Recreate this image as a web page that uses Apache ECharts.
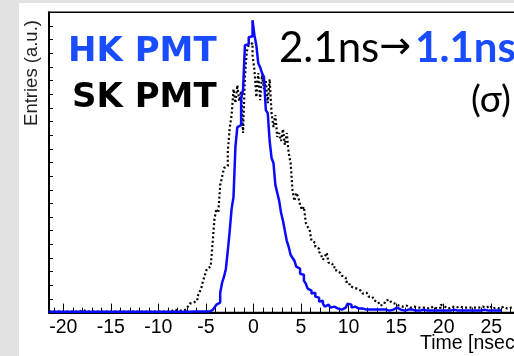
<!DOCTYPE html>
<html>
<head>
<meta charset="utf-8">
<script src="https://cdn.jsdelivr.net/npm/echarts@6/dist/echarts.min.js"></script>
<style>
html,body{margin:0;padding:0;background:#e1e1e1;}
#chart{width:514px;height:356px;}
</style>
</head>
<body>
<div id="chart"></div>
<script>
// ---- data (arbitrary units) ----
const binStart = -21.5;   // ns, left edge of first bin
const binWidth = 0.2;     // ns
const xTickLabels = [-20, -15, -10, -5, 0, 5, 10, 15, 20, 25];
const xMinorTicks = [-21,-20,-19,-18,-17,-16,-15,-14,-13,-12,-11,-10,-9,-8,-7,-6,-5,-4,-3,-2,-1,0,1,2,3,4,5,6,7,8,9,10,11,12,13,14,15,16,17,18,19,20,21,22,23,24,25,26,27,28];

// HK PMT (blue, solid)
const hkCounts = [
  0.8,0.8,0.8,0.8,0.8,0.8,0.8,0.8,0.8,0.8,
  0.8,0.8,0.8,0.8,0.8,0.8,0.8,0.8,0.8,0.8,
  0.8,0.8,0.8,0.8,0.8,0.8,0.8,0.8,0.8,0.8,
  0.8,0.8,0.8,0.8,0.8,0.8,0.8,0.8,0.8,0.8,
  0.8,0.8,0.8,0.8,0.8,0.8,0.8,0.8,0.8,0.8,
  0.8,0.8,0.8,0.8,0.8,0.8,0.8,0.8,0.8,0.8,
  0.8,0.8,0.8,0.8,0.8,0.8,0.8,0.8,0.8,0.8,
  0.8,0.8,0.8,0.8,0.8,1,0.8,1,1,1,
  1,1,1,1,1.5,2.5,4,5,8,10,
  20,30,36,44,62,82,104,116,166,186,
  188,215,223,268,269,276,277,293,278,268,
  250,246,240,236,203,200,172,155,150,128,
  120,112,100,92,82,72,66,58,55,52,
  46,44,39,38,32,29,24,22,19,20,
  16,15,11,12,9,6,8,7,5,6,
  5,4,3,3,4,5,6,9,8,5,
  6,4,4,3,4,3,3,4,3,2,
  3,3,3,2,3,2,3,3,2,2,
  3,3,5,4,3,3,2,3,3,2,
  3,2,2,3,2,2,3,2,2,2,
  2,3,2,2,2,3,2,2,2,3,
  2,2,3,2,2,2,2,3,2,2,
  2,2,2,3,2,2,2,2,3,2,
  2,2,2,2,2,2,2,2
];

// SK PMT (black, dotted)
const skCounts = [
  1,1,1,1.5,1,1,1,1,1,1,
  1,1,1,1,1,1,1.5,2.5,1,1,
  1,1,1,1,1,1,1,1,1,1,
  1,1,1,1,2.5,1,1,1,1,1,
  2.5,1,1,1,1,1,2.5,1,1,1,
  1,1,1,1,1.5,1,1,1,2.5,1,
  1,1,2.5,1,1.5,3,1,2,3,2,
  3,3,4,6,9,10,11,12,16,20,
  24,32,38,44,46,48,70,94,104,100,
  128,136,145,147,162,185,198,224,210,228,
  212,222,180,236,262,268,270,258,243,216,
  240,213,238,224,232,210,234,200,186,198,
  176,180,172,184,168,180,160,150,123,112,
  120,116,108,103,106,90,86,83,72,70,
  66,64,61,58,53,56,60,50,49,46,
  45,42,40,40,37,35,31,30,27,25,
  24,24,23,22,20,19,20,18,16,16,
  15,12,11,9,7,8,10,12,13,12,
  10,9,8,7,6,6,5,7,6,5,
  5,6,4,5,6,5,4,5,5,4,
  5,6,5,4,6,5,8,6,5,4,
  5,6,4,5,5,6,4,5,6,5,
  4,5,6,5,4,5,5,6,7,5,
  6,7,5,4,5,6,4,5,6,5,
  4,6,5,7,5,4,5,6,4,5,5,4
];

const yMax = 301;          // arbitrary units
const yTickCount = 22;

function toSteps(counts) {
  const pts = counts.map((v, i) => [+(binStart + i * binWidth).toFixed(3), v]);
  pts.push([+(binStart + counts.length * binWidth).toFixed(3), counts[counts.length - 1]]);
  return pts;
}

const chart = echarts.init(document.getElementById('chart'), null, {renderer: 'canvas'});
const option = {
  animation: false,
  backgroundColor: '#e1e1e1',
  grid: {
    left: 49, top: 12.3, width: 480.3, height: 300.3,
    containLabel: false, outerBoundsMode: 'none',
    show: true, borderColor: '#000', borderWidth: 1.5, backgroundColor: 'transparent'
  },
  xAxis: [
    {
      type: 'value', min: -21.5, max: 29, position: 'bottom',
      axisLine: {show: true, onZero: false, lineStyle: {color: '#000', width: 2}},
      axisTick: {show: true, inside: true, length: 9, customValues: xTickLabels, lineStyle: {color: '#000', width: 1}},
      axisLabel: {show: true, customValues: xTickLabels, color: '#000', fontSize: 19.5, fontFamily: 'Liberation Sans, Arial', margin: 5},
      splitLine: {show: false}
    },
    {
      type: 'value', min: -21.5, max: 29, position: 'bottom',
      axisLine: {show: false, onZero: false},
      axisTick: {show: true, inside: true, length: 5, customValues: xMinorTicks, lineStyle: {color: '#000', width: 1}},
      axisLabel: {show: false},
      splitLine: {show: false}
    }
  ],
  yAxis: {
    type: 'value', min: 0, max: yMax, interval: yMax / yTickCount,
    axisLine: {show: true, onZero: false, lineStyle: {color: '#000', width: 2}},
    axisTick: {show: true, inside: true, length: 4, lineStyle: {color: '#000', width: 1}},
    axisLabel: {show: false},
    splitLine: {show: false}
  },
  series: [
    {
      name: 'SK PMT', type: 'line', step: 'end', xAxisIndex: 0,
      data: toSteps(skCounts), symbol: 'none', z: 3,
      lineStyle: {color: '#000', width: 2.2, type: [2, 2.4]}
    },
    {
      name: 'HK PMT', type: 'line', step: 'end', xAxisIndex: 0,
      data: toSteps(hkCounts), symbol: 'none', z: 4,
      lineStyle: {color: '#0a0aff', width: 2.5}
    }
  ],
  graphic: [
    {type: 'rect', z: -10, silent: true, shape: {x: 19, y: 3, width: 495, height: 353}, style: {fill: '#fff'}},
    {type: 'text', z: 10, x: 32, y: 73, rotation: Math.PI / 2,
      style: {text: 'Entries (a.u.)', font: '18.5px "Liberation Sans", Arial', fill: '#222', textAlign: 'center', textVerticalAlign: 'middle'}},
    {type: 'text', z: 10, x: 420, y: 344,
      style: {text: 'Time [nsec]', font: '19.5px "Liberation Sans", Arial', fill: '#000', textAlign: 'left', textVerticalAlign: 'middle'}},
    {type: 'text', z: 10, x: 68, y: 52,
      style: {text: 'HK PMT', font: 'bold 34px "DejaVu Sans"', fill: '#1a4cff', textAlign: 'left', textVerticalAlign: 'middle'}},
    {type: 'text', z: 10, x: 72, y: 98,
      style: {text: 'SK PMT', font: 'bold 34px "DejaVu Sans"', fill: '#000', textAlign: 'left', textVerticalAlign: 'middle'}},
    {type: 'text', z: 10, x: 279, y: 48,
      style: {
        text: '{a|2.1ns}{r|→}{b|1.1ns}',
        textAlign: 'left', textVerticalAlign: 'middle',
        rich: {
          a: {font: '42px Lato', fill: '#000'},
          r: {font: '38px "DejaVu Sans"', fill: '#000', padding: [0, 4, 0, 0]},
          b: {font: 'bold 42px Lato', fill: '#1a4cff'}
        }
      }},
    {type: 'text', z: 10, x: 511, y: 100,
      style: {text: '(σ)', font: '37px Lato', fill: '#000', textAlign: 'right', textVerticalAlign: 'middle'}}
  ]
};
chart.setOption(option);
</script>
</body>
</html>
